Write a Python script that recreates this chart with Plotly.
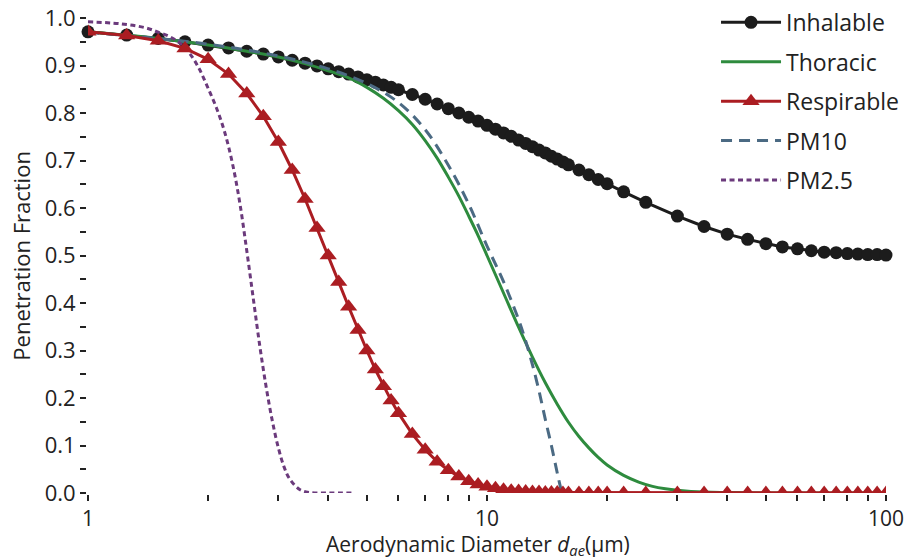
import plotly.graph_objects as go

# Particle-size grid (aerodynamic diameter, µm) used for the marker curves
diam = [1.0, 1.25, 1.5, 1.75, 2.0, 2.25, 2.5, 2.75, 3.0, 3.25, 3.5, 3.75, 4.0, 4.25, 4.5, 4.75,
        5.0, 5.25, 5.5, 5.75, 6.0, 6.5, 7.0, 7.5, 8.0, 8.5, 9.0, 9.5, 10.0, 10.5, 11.0, 11.5,
        12.0, 12.5, 13.0, 13.5, 14.0, 14.5, 15.0, 15.5, 16.0, 17.0, 18.0, 19.0, 20.0, 22.0,
        25.0, 30.0, 35.0, 40.0, 45.0, 50.0, 55.0, 60.0, 65.0, 70.0, 75.0, 80.0, 85.0, 90.0,
        95.0, 100.0]

inhalable = [0.971, 0.964, 0.957, 0.950, 0.943, 0.937, 0.930, 0.924, 0.918, 0.911, 0.905, 0.899,
             0.893, 0.887, 0.882, 0.876, 0.870, 0.865, 0.859, 0.854, 0.849, 0.839, 0.829, 0.819,
             0.809, 0.800, 0.791, 0.783, 0.774, 0.766, 0.758, 0.751, 0.743, 0.736, 0.729, 0.722,
             0.716, 0.709, 0.703, 0.697, 0.691, 0.680, 0.670, 0.660, 0.651, 0.634, 0.612, 0.583,
             0.561, 0.545, 0.534, 0.525, 0.518, 0.514, 0.510, 0.507, 0.506, 0.504, 0.503, 0.502,
             0.502, 0.501]

respirable = [0.971, 0.963, 0.952, 0.936, 0.913, 0.882, 0.841, 0.793, 0.739, 0.680, 0.619, 0.558,
              0.500, 0.444, 0.392, 0.343, 0.300, 0.260, 0.225, 0.195, 0.168, 0.124, 0.091, 0.066,
              0.048, 0.035, 0.025, 0.018, 0.013, 0.010, 0.007, 0.005, 0.004, 0.003, 0.002, 0.002,
              0.001, 0.001, 0.001, 0.000, 0.000, 0.000, 0.000, 0.000, 0.000, 0.000, 0.000, 0.000,
              0.000, 0.000, 0.000, 0.000, 0.000, 0.000, 0.000, 0.000, 0.000, 0.000, 0.000, 0.000,
              0.000, 0.000]

thoracic_d = [1.0, 1.5, 2.0, 2.5, 3.0, 3.5, 4.0, 4.5, 5.0, 5.5, 6.0, 6.5, 7.0, 7.5, 8.0, 8.5,
              9.0, 9.5, 10.0, 11.0, 12.0, 13.0, 14.0, 15.0, 16.0, 17.0, 18.0, 19.0, 20.0, 22.0,
              24.0, 26.0, 28.0, 30.0, 35.0, 40.0, 50.0, 70.0, 100.0]
thoracic = [0.971, 0.957, 0.943, 0.930, 0.918, 0.904, 0.889, 0.874, 0.854, 0.831, 0.805, 0.776,
            0.742, 0.705, 0.665, 0.625, 0.583, 0.542, 0.500, 0.421, 0.349, 0.286, 0.232, 0.187,
            0.149, 0.119, 0.095, 0.075, 0.059, 0.037, 0.023, 0.014, 0.009, 0.006, 0.002, 0.001,
            0.000, 0.000, 0.000]

pm10_d = [1.0, 2.0, 3.0, 4.0, 5.0, 6.0, 7.0, 8.0, 9.0, 10.0, 11.0, 12.0, 12.5, 13.0, 13.5,
          14.0, 14.5, 15.0, 15.4]
pm10 = [0.970, 0.945, 0.920, 0.893, 0.862, 0.822, 0.765, 0.690, 0.608, 0.520, 0.445, 0.365,
        0.320, 0.270, 0.215, 0.155, 0.100, 0.042, 0.000]

pm25_d = [1.0, 1.2, 1.4, 1.5, 1.6, 1.7, 1.8, 1.9, 2.0, 2.1, 2.2, 2.3, 2.4, 2.5, 2.6, 2.7,
          2.8, 2.9, 3.0, 3.1, 3.2, 3.4, 3.6, 4.0, 4.6]
pm25 = [0.992, 0.988, 0.979, 0.970, 0.961, 0.947, 0.925, 0.893, 0.852, 0.810, 0.760, 0.695,
        0.612, 0.510, 0.405, 0.305, 0.220, 0.150, 0.095, 0.055, 0.030, 0.007, 0.001, 0.000,
        0.000]

x_title = "Aerodynamic Diameter <i>d</i><sub><i>ae</i></sub>(µm)"
y_title = "Penetration Fraction"

FONT = "Open Sans"
TXT = "#222222"
AX = "#222222"

fig = go.Figure()

fig.add_trace(go.Scatter(
    x=diam, y=inhalable, name="Inhalable", legendgroup="inh", mode="lines+markers",
    line=dict(color="#1c1c1c", width=3),
    marker=dict(symbol="circle", size=13, color="#1c1c1c"),
    cliponaxis=False, zorder=0))

fig.add_trace(go.Scatter(
    x=thoracic_d, y=thoracic, name="Thoracic", legendgroup="tho", mode="lines",
    line_shape="spline", line=dict(color="#2e8b3e", width=3),
    cliponaxis=False, zorder=1))

fig.add_trace(go.Scatter(
    x=diam, y=respirable, name="Respirable", legendgroup="res", mode="lines+markers",
    line=dict(color="#ab1d22", width=3),
    marker=dict(symbol="triangle-up", size=15, color="#ab1d22"),
    cliponaxis=False, zorder=4))

fig.add_trace(go.Scatter(
    x=pm10_d, y=pm10, name="PM10", legendgroup="p10", mode="lines", line_shape="spline",
    line=dict(color="#4b6a83", width=3, dash="11px,7px"),
    cliponaxis=False, zorder=2))

fig.add_trace(go.Scatter(
    x=pm25_d, y=pm25, name="PM2.5", legendgroup="p25", mode="lines", line_shape="spline",
    line=dict(color="#6b3a7c", width=3, dash="5px,3.5px"),
    cliponaxis=False, zorder=3))

minor_x = [2, 3, 4, 5, 6, 7, 8, 9, 20, 30, 40, 50, 60, 70, 80, 90]

fig.update_layout(
    width=907, height=558,
    margin=dict(l=88, r=21, t=18, b=65, autoexpand=False),
    paper_bgcolor="white", plot_bgcolor="white",
    font=dict(family=FONT, size=22, color=TXT),
    showlegend=True,
    legend=dict(x=0.787, y=1.036, xanchor="left", yanchor="top",
                bgcolor="rgba(0,0,0,0)", font=dict(size=23, color=TXT),
                itemwidth=60, traceorder="grouped", tracegroupgap=6.5),
    xaxis=dict(
        type="log", range=[0, 2],
        tickmode="array", tickvals=[1, 10, 100], ticktext=["1", "10", "100"],
        ticks="outside", ticklen=6, tickwidth=2, tickcolor=AX, ticklabelstandoff=0,
        showline=True, linewidth=2, linecolor=AX, showgrid=False, zeroline=False,
        tickfont=dict(size=21, color=TXT),
        minor=dict(tickmode="array", tickvals=minor_x, ticks="outside", ticklen=6,
                   tickwidth=2, tickcolor=AX, showgrid=False),
    ),
    yaxis=dict(
        range=[0, 1.0], tickmode="linear", tick0=0, dtick=0.1, tickformat=".1f",
        ticks="outside", ticklen=6, tickwidth=2, tickcolor=AX,
        showline=True, linewidth=2, linecolor=AX, showgrid=False, zeroline=False,
        tickfont=dict(size=22, color=TXT),
        minor=dict(dtick=0.05, ticks="outside", ticklen=6, tickwidth=2,
                   tickcolor=AX, showgrid=False),
    ),
    annotations=[
        dict(text=x_title, xref="paper", yref="paper", x=0.489, y=-0.109,
             xanchor="center", yanchor="middle", showarrow=False,
             font=dict(size=21, color=TXT)),
        dict(text=y_title, xref="paper", yref="paper", x=-0.085, y=0.5,
             xanchor="center", yanchor="middle", textangle=-90, showarrow=False,
             font=dict(size=22, color=TXT)),
    ],
)

fig.write_html("out.html")
